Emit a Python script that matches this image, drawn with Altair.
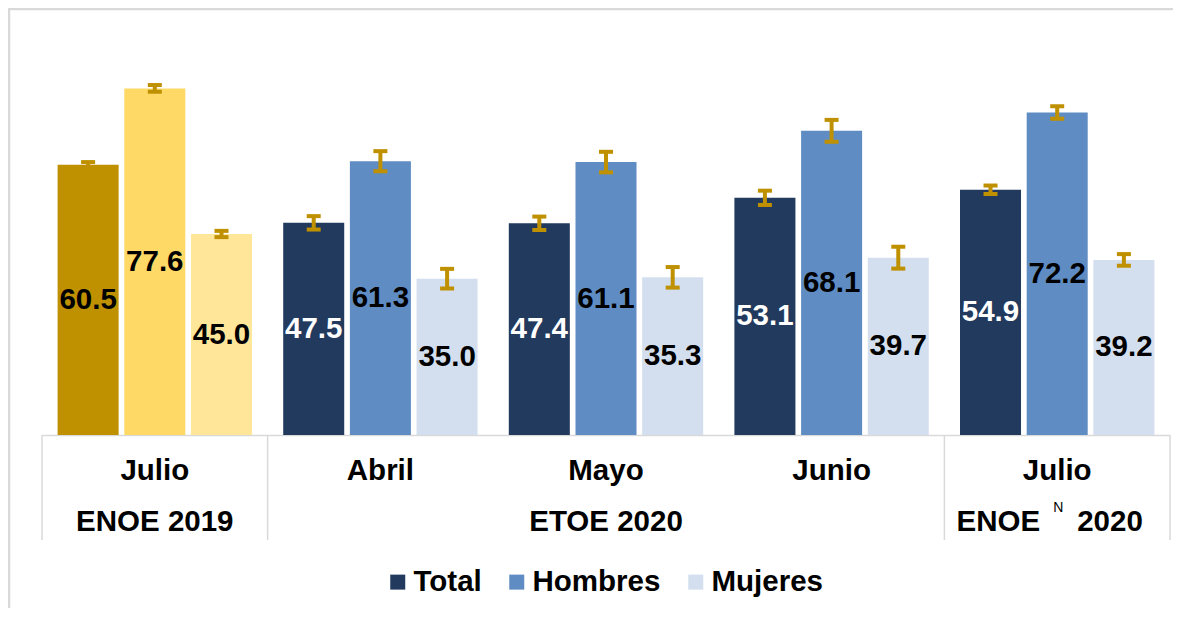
import altair as alt
import pandas as pd

# ---------------- data ----------------
group_ids = ["g1", "g2", "g3", "g4", "g5"]
months = ["Julio", "Abril", "Mayo", "Junio", "Julio"]
sections = ["ENOE 2019", "ETOE 2020", "ETOE 2020", "ETOE 2020", "ENOE 2020"]
series = ["Total", "Hombres", "Mujeres"]

total = [60.5, 47.5, 47.4, 53.1, 54.9]
hombres = [77.6, 61.3, 61.1, 68.1, 72.2]
mujeres = [45.0, 35.0, 35.3, 39.7, 39.2]

err_total = [0.6, 1.5, 1.5, 1.6, 0.95]
err_hombres = [0.75, 2.25, 2.3, 2.45, 1.4]
err_mujeres = [0.7, 2.2, 2.3, 2.45, 1.3]

# section label shown once, under the middle group of each section
section_label_gid = ["g1", "g3"]
section_label_text = ["ENOE 2019", "ETOE 2020"]
last_left, last_sup, last_right = "ENOE", "N", "2020"

# ---------------- styling ----------------
FONT = "Liberation Sans"
NAVY, BLUE, LIGHT = "#223A5E", "#5F8DC3", "#D3DFEE"
GOLD1, GOLD2, GOLD3 = "#BF9000", "#FFD966", "#FFE699"
ERRC = "#BF9000"
GRID = "#D9D9D9"
FS = 29.5

W, H = 1128, 402

rows = []
vals = {"Total": total, "Hombres": hombres, "Mujeres": mujeres}
errs = {"Total": err_total, "Hombres": err_hombres, "Mujeres": err_mujeres}
for i, g in enumerate(group_ids):
    for s in series:
        v = vals[s][i]
        e = errs[s][i]
        rows.append({
            "gid": g,
            "serie": s,
            "value": v,
            "mid": v / 2,
            "lo": v - e,
            "hi": v + e,
            "label": f"{v:.1f}",
            "ckey": s if sections[i] != "ENOE 2019" else s + " 2019",
        })
df = pd.DataFrame(rows)

label_expr = "[" + ",".join(f"'{m}'" for m in months) + "][indexof([" + \
    ",".join(f"'{g}'" for g in group_ids) + "], datum.value)]"

xaxis = alt.Axis(
    title=None, labelExpr=label_expr, labelFont=FONT, labelFontSize=FS,
    labelFontWeight="bold", labelColor="black", labelAngle=0,
    labelBaseline="middle", labelPadding=35, ticks=False, tickSize=0,
    domainColor=GRID, domainWidth=1.5, grid=False,
)


def X(**kw):
    return alt.X("gid:N", sort=group_ids,
                 scale=alt.Scale(paddingInner=0, paddingOuter=0),
                 axis=xaxis, **kw)


XO = alt.XOffset("serie:N", sort=series,
                 scale=alt.Scale(paddingInner=0.085, paddingOuter=0.234))

color_domain = ["Total", "Hombres", "Mujeres",
                "Total 2019", "Hombres 2019", "Mujeres 2019"]
color_range = [NAVY, BLUE, LIGHT, GOLD1, GOLD2, GOLD3]

yscale = alt.Scale(domain=[0, 90])

base = alt.Chart(df)

bars = base.mark_bar().encode(
    x=X(), xOffset=XO,
    y=alt.Y("value:Q", scale=yscale, axis=None),
    color=alt.Color(
        "ckey:N",
        scale=alt.Scale(domain=color_domain, range=color_range),
        legend=alt.Legend(
            values=series, title=None, orient="none", direction="horizontal",
            legendX=341, legendY=534, padding=0,
            symbolType="square", symbolSize=225, symbolStrokeWidth=0,
            labelFont=FONT, labelFontSize=FS, labelFontWeight="bold",
            labelColor="black", labelOffset=1, columnPadding=20,
        ),
    ),
)

err_line = base.mark_rule(color=ERRC, strokeWidth=4).encode(
    x=X(), xOffset=XO,
    y=alt.Y("lo:Q", scale=yscale, axis=None), y2="hi:Q",
)
cap_lo = base.mark_tick(color=ERRC, size=14, thickness=4, opacity=1).encode(
    x=X(), xOffset=XO, y=alt.Y("lo:Q", scale=yscale, axis=None),
)
cap_hi = base.mark_tick(color=ERRC, size=14, thickness=4, opacity=1).encode(
    x=X(), xOffset=XO, y=alt.Y("hi:Q", scale=yscale, axis=None),
)

labels = base.mark_text(font=FONT, fontSize=FS, fontWeight="bold",
                        baseline="middle").encode(
    x=X(), xOffset=XO,
    y=alt.Y("mid:Q", scale=yscale, axis=None),
    text="label:N",
    color=alt.condition(alt.datum.ckey == "Total", alt.value("white"),
                        alt.value("black")),
)

# separators between sections
sep_left = [g for i, g in enumerate(group_ids) if i == 0 or sections[i] != sections[i - 1]]
sep_df = pd.DataFrame({"gid": sep_left})
sep_l = alt.Chart(sep_df).mark_rule(color=GRID, strokeWidth=1.5).encode(
    x=X(bandPosition=0), y=alt.value(H), y2=alt.value(H + 105),
)
sep_r = alt.Chart(pd.DataFrame({"gid": [group_ids[-1]]})).mark_rule(
    color=GRID, strokeWidth=1.5).encode(
    x=X(bandPosition=1), y=alt.value(H), y2=alt.value(H + 105),
)

sec_df = pd.DataFrame({"gid": section_label_gid, "t": section_label_text})
sec_text = alt.Chart(sec_df).mark_text(
    font=FONT, fontSize=FS, fontWeight="bold", baseline="middle",
    color="black").encode(x=X(), y=alt.value(H + 87), text="t:N")

last_df = pd.DataFrame({"gid": [group_ids[-1]], "l": [last_left],
                        "s": [last_sup], "r": [last_right]})
last_l = alt.Chart(last_df).mark_text(
    font=FONT, fontSize=FS, fontWeight="bold", baseline="middle",
    align="right", dx=-17, color="black").encode(
    x=X(), y=alt.value(H + 87), text="l:N")
last_r = alt.Chart(last_df).mark_text(
    font=FONT, fontSize=FS, fontWeight="bold", baseline="middle",
    align="left", dx=20, color="black").encode(
    x=X(), y=alt.value(H + 87), text="r:N")
last_s = alt.Chart(last_df).mark_text(
    font=FONT, fontSize=14, baseline="middle", align="center", dx=1,
    color="black").encode(x=X(), y=alt.value(H + 73), text="s:N")

one = pd.DataFrame({"a": [0]})
frame_top = alt.Chart(one).mark_rule(color=GRID, strokeWidth=2.5).encode(
    x=alt.value(-34), x2=alt.value(W + 40), y=alt.value(-24),
)
frame_left = alt.Chart(one).mark_rule(color=GRID, strokeWidth=2.5).encode(
    x=alt.value(-33), y=alt.value(-25), y2=alt.value(H + 200),
)

chart = alt.layer(
    frame_top, frame_left, bars, err_line, cap_lo, cap_hi, labels,
    sep_l, sep_r, sec_text, last_l, last_r, last_s,
).properties(
    width=W, height=H,
    padding={"left": 34, "top": 25, "right": 3, "bottom": 173},
    autosize=alt.AutoSizeParams(type="none"),
).configure_view(stroke=None, strokeWidth=0)

chart.save("out.html", embed_options={"renderer": "svg", "actions": False})
